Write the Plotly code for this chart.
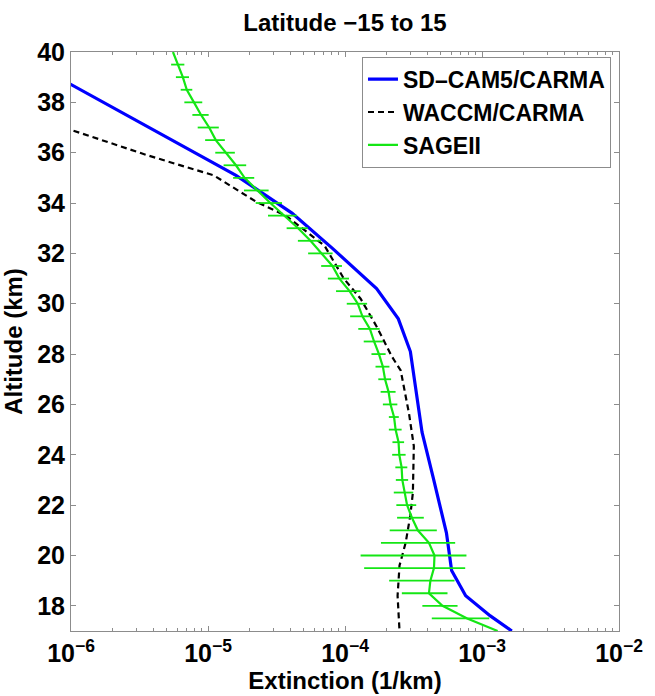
import plotly.graph_objects as go

# SD-CAM5/CARMA modelled extinction profile (altitude km, extinction 1/km)
cam5_alt = [39.0, 36.1, 35.1, 33.6, 32.2, 30.6, 29.4, 28.1, 24.9,
            23.1, 22.1, 20.9, 19.4, 18.4, 17.6, 17.0]
cam5_ext = [8.0e-7, 7.5e-6, 1.6e-5, 4.1e-5, 8.1e-5, 1.7e-4, 2.45e-4,
            3.0e-4, 3.65e-4, 4.4e-4, 4.9e-4, 5.5e-4, 6.0e-4, 7.6e-4, 1.15e-3, 1.65e-3]

# WACCM/CARMA modelled extinction profile
waccm_alt = [37.5, 35.9, 35.1, 34.05, 33.5, 32.3, 31.0, 30.2, 29.1, 27.9,
             27.35, 25.65, 24.35, 22.5, 21.6, 20.5, 19.6, 18.4, 17.0]
waccm_ext = [4.7e-7, 3.6e-6, 1.1e-5, 2.25e-5, 3.7e-5, 7.1e-5, 9.8e-5, 1.3e-4,
             1.7e-4, 2.2e-4, 2.55e-4, 2.93e-4, 3.18e-4, 3.13e-4, 3.0e-4,
             2.77e-4, 2.5e-4, 2.42e-4, 2.5e-4]

# SAGE II observed extinction, every 0.5 km, with standard deviation
sage_alt = [17.0, 17.5, 18.0, 18.5, 19.0, 19.5, 20.0, 20.5, 21.0, 21.5,
            22.0, 22.5, 23.0, 23.5, 24.0, 24.5, 25.0, 25.5, 26.0, 26.5,
            27.0, 27.5, 28.0, 28.5, 29.0, 29.5, 30.0, 30.5, 31.0, 31.5,
            32.0, 32.5, 33.0, 33.5, 34.0, 34.5, 35.0, 35.5, 36.0, 36.5,
            37.0, 37.5, 38.0, 38.5, 39.0, 39.5, 40.0]
sage_ext = [1.30e-3, 7.8e-4, 5.15e-4, 4.1e-4, 4.2e-4, 4.46e-4, 4.5e-4, 4.1e-4,
            3.4e-4, 3.08e-4, 2.84e-4, 2.71e-4, 2.62e-4, 2.59e-4, 2.49e-4,
            2.46e-4, 2.34e-4, 2.28e-4, 2.15e-4, 2.08e-4, 1.96e-4, 1.89e-4,
            1.77e-4, 1.63e-4, 1.52e-4, 1.34e-4, 1.24e-4, 1.08e-4, 9.1e-5,
            8.1e-5, 6.75e-5, 5.6e-5, 4.55e-5, 3.6e-5, 2.85e-5, 2.3e-5,
            1.85e-5, 1.6e-5, 1.35e-5, 1.14e-5, 1.02e-5, 8.9e-6, 7.9e-6,
            7.0e-6, 6.55e-6, 6.05e-6, 5.55e-6]
sage_std = [0.0, 3.5e-4, 1.48e-4, 1.5e-4, 2.1e-4, 3.08e-4, 3.2e-4, 2.27e-4,
            1.28e-4, 6.8e-5, 4.7e-5, 4.4e-5, 2.7e-5, 2.6e-5, 2.8e-5, 2.4e-5,
            2.5e-5, 1.9e-5, 2.6e-5, 2.6e-5, 2.1e-5, 2.2e-5, 2.1e-5, 2.6e-5,
            2.7e-5, 2.5e-5, 2.1e-5, 2.2e-5, 1.6e-5, 1.4e-5, 1.37e-5, 1.07e-5,
            8.0e-6, 8.6e-6, 6.2e-6, 4.7e-6, 3.25e-6, 3.0e-6, 2.2e-6, 1.87e-6,
            1.79e-6, 1.21e-6, 1.18e-6, 6.8e-7, 7.2e-7, 6.7e-7, 0.0]

x_ticks = [1e-6, 1e-5, 1e-4, 1e-3, 1e-2]
x_ticktext = ["10<sup>−6</sup>", "10<sup>−5</sup>", "10<sup>−4</sup>",
              "10<sup>−3</sup>", "10<sup>−2</sup>"]
y_ticks = [18, 20, 22, 24, 26, 28, 30, 32, 34, 36, 38, 40]

FONT = "Liberation Sans, Arial, sans-serif"
AXIS_GREY = "#8c8c8c"

fig = go.Figure()

fig.add_trace(go.Scatter(
    x=cam5_ext, y=cam5_alt, mode="lines", name="SD–CAM5/CARMA",
    line=dict(color="#0000ff", width=3.2),
))
fig.add_trace(go.Scatter(
    x=waccm_ext, y=waccm_alt, mode="lines", name="WACCM/CARMA",
    line=dict(color="#000000", width=2.2, dash="6px,4px"),
))
fig.add_trace(go.Scatter(
    x=sage_ext, y=sage_alt, mode="lines", name="SAGEII",
    line=dict(color="#14e614", width=2.2),
    error_x=dict(type="data", array=sage_std, symmetric=True,
                 color="#14e614", thickness=1.8, width=0),
))

axis_common = dict(
    showline=True, linecolor=AXIS_GREY, linewidth=1, mirror="ticks",
    ticks="inside", ticklen=5, tickcolor=AXIS_GREY, tickwidth=1,
    showgrid=False, zeroline=False, ticklabeloverflow="allow",
    tickfont=dict(family=FONT, size=25, color="#000000", weight="bold"),
)

fig.update_xaxes(
    type="log", range=[-6, -2], tickvals=x_ticks, ticktext=x_ticktext,
    minor=dict(ticks="inside", ticklen=3, tickcolor=AXIS_GREY, dtick="D1"),
    title=dict(text="Extinction (1/km)", standoff=0,
               font=dict(family=FONT, size=24, color="#000000", weight="bold")),
    **axis_common,
)
fig.update_yaxes(
    range=[17, 40], tickvals=y_ticks,
    title=dict(text="Altitude (km)", standoff=8,
               font=dict(family=FONT, size=24, color="#000000", weight="bold")),
    **axis_common,
)

fig.update_layout(
    width=655, height=696,
    margin=dict(l=71, r=23, t=52, b=60),
    paper_bgcolor="#ffffff", plot_bgcolor="#ffffff",
    title=dict(text="Latitude −15 to 15", x=0.5, xref="paper", xanchor="center",
               y=1 - 23 / 696, yanchor="middle",
               font=dict(family=FONT, size=24, color="#000000", weight="bold")),
    legend=dict(
        x=0.531, y=0.992, xanchor="left", yanchor="top",
        bgcolor="#ffffff", bordercolor=AXIS_GREY, borderwidth=1,
        font=dict(family=FONT, size=23, color="#000000", weight="bold"),
        tracegroupgap=0, itemwidth=30,
    ),
    showlegend=True,
)

fig.write_html("out.html")
